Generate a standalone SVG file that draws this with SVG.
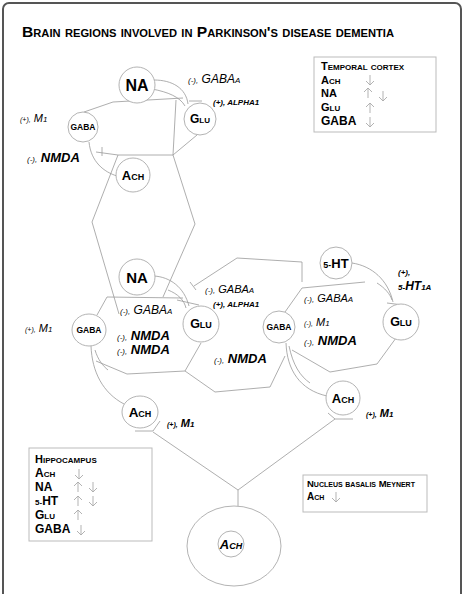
<svg xmlns="http://www.w3.org/2000/svg" xmlns:xlink="http://www.w3.org/1999/xlink" width="474" height="594" viewBox="0 0 474 594">
<style>
.frame{fill:#fff;stroke:#555;stroke-width:2}
.box{fill:#fff;stroke:#bbb;stroke-width:1}
.node{fill:#fff;stroke:#aaa;stroke-width:0.9}
.ln{fill:none;stroke:#999;stroke-width:0.8}
.ar{fill:none;stroke:#aaa;stroke-width:0.9}
text{font-family:"Liberation Sans",Arial,sans-serif;fill:#000}
.nl{font-weight:bold;text-anchor:middle}
.sc{font-variant:small-caps}
.lab{font-style:italic}
.bi{font-style:italic;font-weight:bold}
.hd{font-weight:bold;font-variant:small-caps}
</style>
<defs>
<g id="dn"><path class="ar" d="M0,-5 V5 M-4,1 L0,5 L4,1"/></g>
<g id="up"><path class="ar" d="M0,5 V-5 M-4,-1 L0,-5 L4,-1"/></g>
</defs>
<rect class="frame" x="3" y="3" width="458" height="600" rx="6"/>
<text x="22" y="37" font-size="14" font-weight="bold" font-variant="small-caps" textLength="372" lengthAdjust="spacingAndGlyphs">Brain regions involved in Parkinson's disease dementia</text>

<g id="connectors">
<!-- top group -->
<path class="ln" d="M84,112 L113,102 L183,98"/>
<path class="ln" d="M189,101 H202"/>
<path class="ln" d="M154,80 C172,80 186,88 188,104"/>
<path class="ln" d="M152,89 C168,92 180,97 185,106"/>
<path class="ln" d="M176,100 L173,155 L195,224 L163,297"/>
<path class="ln" d="M96,152 L118,155 L173,155 L197,135"/>
<path class="ln" d="M102,147 V156"/>
<path class="ln" d="M118,155 L92,222 L119,314"/>
<path class="ln" d="M89,142 C91,162 104,172 117,176"/>
<!-- lower-left group -->
<path class="ln" d="M154,276 C170,277 184,287 189,306"/>
<path class="ln" d="M168,290 C178,294 184,300 186,308"/>
<path class="ln" d="M177,300 L199,305"/>
<path class="ln" d="M97,315 L107,297 L183,298"/>
<path class="ln" d="M96,361 L127,374 L185,371 L201,343"/>
<path class="ln" d="M91,346 C92,372 103,393 124,404"/>
<path class="ln" d="M95,350 C98,360 103,366 108,370"/>
<!-- middle hexagon -->
<path class="ln" d="M194,286 L237,258 L302,262 L302,282"/>
<path class="ln" d="M190,282 L196,290"/>
<path class="ln" d="M185,371 L215,392 L270,387 L285,356"/>
<!-- lower-right group -->
<path class="ln" d="M285,312 L302,288 L365,282"/>
<path class="ln" d="M292,350 L330,372 L377,364 L396,338"/>
<path class="ln" d="M352,263 C372,266 388,280 393,302"/>
<path class="ln" d="M377,283 C385,288 390,294 392,300"/>
<path class="ln" d="M387,303 L403,305"/>
<path class="ln" d="M286,343 C287,370 300,390 327,396"/>
<path class="ln" d="M289,346 C293,365 300,376 310,383"/>
<!-- bottom -->
<path class="ln" d="M135,431 H153 L160,421"/>
<path class="ln" d="M153,432 L238,490 L335,419 H353"/>
<path class="ln" d="M335,419 L328,413"/>
<path class="ln" d="M238,490 V506"/>
</g>

<g id="n_top_NA"><circle class="node" cx="137" cy="85" r="18"/><text class="nl" x="137" y="91" font-size="16">NA</text></g>
<g id="n_top_GABA"><circle class="node" cx="83" cy="127" r="15"/><text class="nl" x="83" y="130" font-size="8.5">GABA</text></g>
<g id="n_top_Glu"><circle class="node" cx="200" cy="119" r="16"/><text class="nl sc" x="200" y="123" font-size="12">Glu</text></g>
<g id="n_top_Ach"><circle class="node" cx="133" cy="175" r="17"/><text class="nl sc" x="133" y="180" font-size="13">Ach</text></g>

<g id="n_ll_NA"><circle class="node" cx="137" cy="277" r="18"/><text class="nl" x="137" y="283" font-size="15">NA</text></g>
<g id="n_ll_GABA"><ellipse class="node" cx="89" cy="330" rx="17" ry="16"/><text class="nl" x="89" y="333" font-size="8.5">GABA</text></g>
<g id="n_ll_Glu"><circle class="node" cx="201" cy="324" r="18"/><text class="nl sc" x="201" y="328" font-size="12.5">Glu</text></g>

<g id="n_lr_5HT"><circle class="node" cx="336" cy="263" r="16"/><text class="nl" x="336" y="268" font-size="13"><tspan font-size="9">5-</tspan>HT</text></g>
<g id="n_lr_GABA"><circle class="node" cx="279" cy="327" r="16"/><text class="nl" x="279" y="330" font-size="8.5">GABA</text></g>
<g id="n_lr_Glu"><circle class="node" cx="401" cy="322" r="18"/><text class="nl sc" x="401" y="326" font-size="12.5">Glu</text></g>

<g id="n_bl_Ach"><ellipse class="node" cx="140" cy="412" rx="18" ry="16"/><text class="nl sc" x="140" y="417" font-size="13.5">Ach</text></g>
<g id="n_br_Ach"><circle class="node" cx="343" cy="398" r="17"/><text class="nl sc" x="343" y="403" font-size="13">Ach</text></g>
<g id="n_nbm"><ellipse class="node" cx="234" cy="546" rx="47" ry="40"/><circle class="node" cx="231" cy="544" r="13"/><text class="nl sc" x="231" y="549" font-size="13" font-style="italic">Ach</text></g>

<g id="labels">
<text class="lab" x="188" y="83" font-size="12"><tspan font-size="8">(-),</tspan> GABA<tspan font-size="8">A</tspan></text>
<text class="bi" x="213" y="105" font-size="8">(+), ALPHA1</text>
<text class="lab" x="20" y="122" font-size="11"><tspan font-size="7">(+),</tspan> M<tspan font-size="8">1</tspan></text>
<text class="bi" x="27" y="162" font-size="13"><tspan font-size="8" font-weight="normal">(-),</tspan> NMDA</text>

<text class="lab" x="120" y="314" font-size="12"><tspan font-size="8">(-),</tspan> GABA<tspan font-size="8">A</tspan></text>
<text class="bi" x="117" y="340" font-size="13"><tspan font-size="8" font-weight="normal">(-),</tspan> NMDA</text>
<text class="bi" x="117" y="354" font-size="13"><tspan font-size="8" font-weight="normal">(-),</tspan> NMDA</text>
<text class="lab" x="25" y="332" font-size="11"><tspan font-size="7">(+),</tspan> M<tspan font-size="8">1</tspan></text>

<text class="lab" x="205" y="293" font-size="11"><tspan font-size="8">(-),</tspan> GABA<tspan font-size="8">A</tspan></text>
<text class="bi" x="213" y="307" font-size="8">(+), ALPHA1</text>
<text class="bi" x="214" y="363" font-size="13"><tspan font-size="8" font-weight="normal">(-),</tspan> NMDA</text>

<text class="lab" x="304" y="302" font-size="11"><tspan font-size="8">(-),</tspan> GABA<tspan font-size="8">A</tspan></text>
<text class="lab" x="304" y="326" font-size="11"><tspan font-size="7">(-),</tspan> M<tspan font-size="8">1</tspan></text>
<text class="bi" x="304" y="345" font-size="13"><tspan font-size="8" font-weight="normal">(-),</tspan> NMDA</text>
<text class="bi" x="398" y="275" font-size="8">(+),</text>
<text class="bi" x="398" y="290" font-size="12"><tspan font-size="8">5-</tspan>HT<tspan font-size="8">1A</tspan></text>

<text class="bi" x="167" y="427" font-size="11"><tspan font-size="7">(+),</tspan> M<tspan font-size="8">1</tspan></text>
<text class="bi" x="366" y="417" font-size="11"><tspan font-size="7">(+),</tspan> M<tspan font-size="8">1</tspan></text>
</g>

<g id="temporal_cortex">
<rect class="box" x="314" y="57" width="122" height="75"/>
<text class="hd" x="321" y="70" font-size="11">Temporal cortex</text>
<text class="hd" x="321" y="84" font-size="11">Ach</text>
<text class="hd" x="321" y="97" font-size="11">NA</text>
<text class="hd" x="321" y="111" font-size="11">Glu</text>
<text class="hd" x="321" y="125" font-size="12">GABA</text>
<use xlink:href="#dn" x="370" y="80"/>
<use xlink:href="#up" x="368" y="93"/>
<use xlink:href="#dn" x="383" y="96"/>
<use xlink:href="#up" x="370" y="108"/>
<use xlink:href="#dn" x="370" y="122"/>
</g>

<g id="hippocampus">
<rect class="box" x="29" y="448" width="123" height="93"/>
<text class="hd" x="35" y="463" font-size="11">Hippocampus</text>
<text class="hd" x="35" y="477" font-size="12">Ach</text>
<text class="hd" x="35" y="491" font-size="12">NA</text>
<text class="hd" x="35" y="505" font-size="12"><tspan font-size="8">5-</tspan>HT</text>
<text class="hd" x="35" y="519" font-size="12">Glu</text>
<text class="hd" x="35" y="533" font-size="12">GABA</text>
<use xlink:href="#dn" x="79" y="474"/>
<use xlink:href="#up" x="78" y="487"/>
<use xlink:href="#dn" x="93" y="487"/>
<use xlink:href="#up" x="78" y="501"/>
<use xlink:href="#dn" x="93" y="501"/>
<use xlink:href="#up" x="78" y="515"/>
<use xlink:href="#dn" x="81" y="530"/>
</g>

<g id="nucleus_basalis">
<rect class="box" x="303" y="475" width="124" height="37"/>
<text class="hd" x="307" y="487" font-size="9.5">Nucleus basalis Meynert</text>
<text class="hd" x="307" y="500" font-size="10">Ach</text>
<use xlink:href="#dn" x="336" y="497"/>
</g>
</svg>
